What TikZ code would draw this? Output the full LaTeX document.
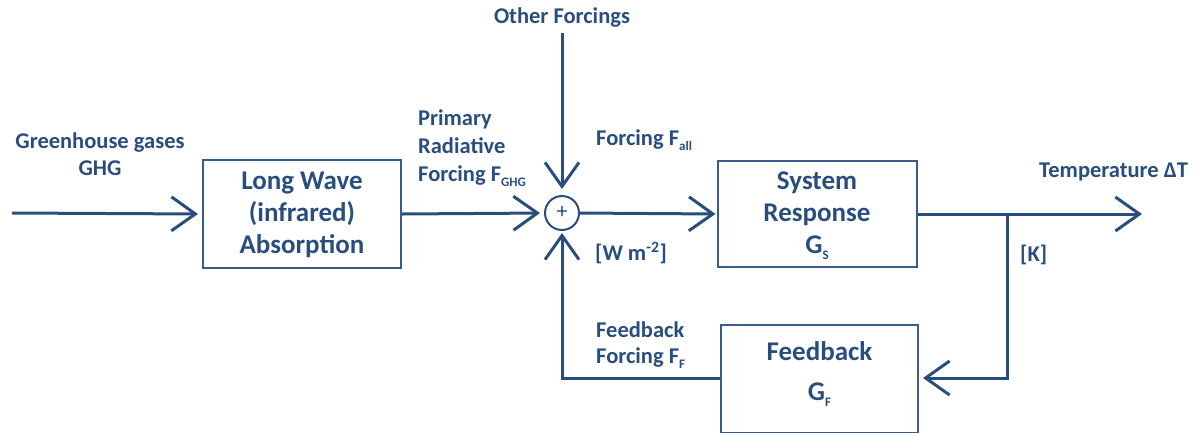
\documentclass[tikz,border=0pt]{standalone}
\usepackage{fontspec}
\setmainfont{Carlito}
\usetikzlibrary{arrows.meta}
\definecolor{ink}{RGB}{41,78,125}
\definecolor{boxc}{RGB}{58,92,138}
\newcommand{\dn}[1]{\raisebox{-0.45ex}{\fontsize{13}{13}\selectfont #1}}
\tikzset{
  lbl/.style={text=ink,font=\fontsize{22.5}{27}\selectfont\bfseries,inner sep=0pt},
  boxtxt/.style={text=ink,font=\fontsize{27}{32}\selectfont\bfseries,align=center},
  blk/.style={draw=boxc,line width=2pt,inner sep=0pt},
  arr/.style={draw=ink,line width=3pt,-{Straight Barb[length=24pt,width=34pt,line width=3pt]}},
  ln/.style={draw=ink,line width=3pt},
}
\begin{document}
\begin{tikzpicture}[x=1pt,y=-1pt]
\useasboundingbox (0,0) rectangle (1201,432);
% blocks
\node[blk,minimum width=198pt,minimum height=108pt] (lw) at (302,214) {};
\node[boxtxt] (lwt) at (302,215) {Long Wave\\(infrared)\\Absorption};
\node[blk,minimum width=199pt,minimum height=106pt] (sr) at (817,214) {};
\node[boxtxt] (srt) at (817,216) {System\\Response\\G\dn{S}};
\node[blk,minimum width=197pt,minimum height=108pt] (fb) at (819.5,379) {};
\node[boxtxt,font=\fontsize{27}{40}\selectfont\bfseries] (fbt) at (819.5,374) {Feedback\\G\dn{F}};
% summing junction
\node[circle,draw=ink,line width=2pt,minimum size=34pt,inner sep=0pt] (sum) at (562,213) {};
\node[text=ink,font=\fontsize{22}{22}\selectfont,inner sep=0pt] (plus) at (562,212) {+};
% coordinates
\coordinate (in) at (12,213);
\coordinate (top) at (562,33);
\coordinate (br) at (1007,214);
\coordinate (out) at (1142,214);
\coordinate (brd) at (1007,378);
\coordinate (fbl) at (562,378);
% connectors
\draw[arr,shorten >=4pt] (in) -- (lw.west);
\draw[arr,shorten >=4pt] (lw.east) -- (sum.west);
\draw[arr,shorten >=6pt] (top) -- (sum.north);
\draw[arr,shorten >=1pt] (sum.east) -- (sr.west);
\draw[ln] (sr.east) -- (br);
\draw[arr] (br) -- (out);
\draw[arr,shorten >=4pt] (br) -- (brd) -- (fb.east |- brd) ;
\draw[arr,shorten >=2pt] (fb.west |- fbl) -- (fbl) -- (sum.south);
% labels
\node[lbl,align=center] (ghg) at (100,154) {Greenhouse gases\\GHG};
\node[lbl] (other) at (562,18) {Other Forcings};
\node[lbl,align=left,anchor=west,font=\fontsize{22.5}{28}\selectfont\bfseries] (prf) at (418,148) {Primary\\Radiative\\Forcing F\dn{GHG}};
\node[lbl,anchor=west] (fall) at (596,140) {Forcing F\dn{all}};
\node[lbl,anchor=west] (wm) at (595,253) {[W m\textsuperscript{-2}]};
\node[lbl,anchor=west] (temp) at (1039,172) {Temperature ΔT};
\node[lbl,anchor=west] (k) at (1020,255) {[K]};
\node[lbl,align=left,anchor=west,font=\fontsize{22.5}{26}\selectfont\bfseries] (fbf) at (596,345) {Feedback\\Forcing F\dn{F}};
\end{tikzpicture}
\end{document}
